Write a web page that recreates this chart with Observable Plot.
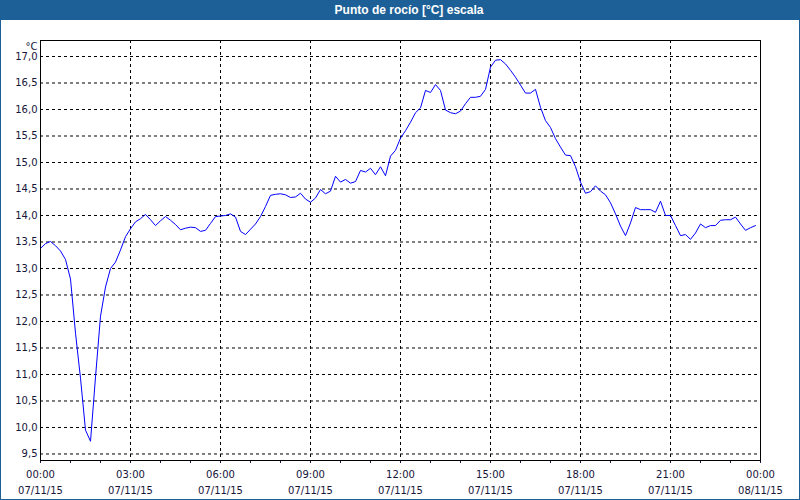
<!DOCTYPE html>
<html><head><meta charset="utf-8">
<script src="https://cdn.jsdelivr.net/npm/d3@7"></script>
<script src="https://cdn.jsdelivr.net/npm/@observablehq/plot@0.6"></script>
<style>
body{margin:0;background:#fff;}
#title{position:absolute;left:0;top:0;width:800px;height:20px;background:#1d5f97;color:#fff;font:bold 12px "Liberation Sans",sans-serif;line-height:20px;text-align:center;padding-left:18px;box-sizing:border-box}
#chart{position:absolute;left:0;top:20px;width:800px;height:480px}
#frame{position:absolute;left:0;top:0;width:800px;height:500px;box-sizing:border-box;border:1px solid #1d5f97;pointer-events:none}
</style></head>
<body>
<div id="title">Punto de rocío [°C] escala</div>
<div id="chart"></div>
<div id="frame"></div>
<script>
// Series: dew point [°C], one reading every 10 minutes from 07/11/15 00:00
const startTime = Date.UTC(2015, 10, 7, 0, 0);
const endTime = Date.UTC(2015, 10, 8, 0, 0);
const stepMinutes = 10;
const dewPoint = [
  13.38, 13.47, 13.51, 13.43, 13.33, 13.17, 12.80, 11.78, 10.93, 9.95,
  9.74, 10.95, 12.10, 12.65, 13.00, 13.12, 13.35, 13.60, 13.75, 13.88,
  13.94, 14.02, 13.92, 13.81, 13.90, 13.98, 13.91, 13.83, 13.73, 13.76,
  13.78, 13.77, 13.70, 13.72, 13.85, 13.98, 13.99, 14.00, 14.03, 13.97,
  13.70, 13.64, 13.74, 13.84, 13.98, 14.17, 14.38, 14.40, 14.41, 14.39,
  14.34, 14.35, 14.42, 14.31, 14.25, 14.33, 14.49, 14.41, 14.46, 14.74,
  14.63, 14.68, 14.61, 14.64, 14.85, 14.82, 14.89, 14.77, 14.92, 14.75,
  15.12, 15.23, 15.46, 15.60, 15.76, 15.94, 16.03, 16.36, 16.32, 16.47,
  16.36, 15.99, 15.94, 15.92, 15.97, 16.11, 16.23, 16.23, 16.25, 16.38,
  16.80, 16.93, 16.94, 16.86, 16.74, 16.61, 16.46, 16.31, 16.31, 16.38,
  16.04, 15.79, 15.66, 15.45, 15.29, 15.14, 15.13, 14.92, 14.63, 14.42,
  14.45, 14.56, 14.46, 14.39, 14.24, 14.03, 13.80, 13.62, 13.86, 14.15,
  14.11, 14.11, 14.11, 14.06, 14.27, 14.00, 14.00, 13.81, 13.62, 13.64,
  13.55, 13.67, 13.84, 13.77, 13.81, 13.81, 13.91, 13.92, 13.92, 13.97,
  13.84, 13.72, 13.77, 13.81
];
const yTicks = [9.5, 10, 10.5, 11, 11.5, 12, 12.5, 13, 13.5, 14, 14.5, 15, 15.5, 16, 16.5, 17];
const yDomain = [9.377, 17.302];
const yUnit = "°C";

const data = dewPoint.map((v, i) => ({time: new Date(startTime + i * stepMinutes * 60000), value: v}));
const majorTicks = d3.utcHour.every(3).range(new Date(startTime), new Date(endTime + 1));
const innerMajor = majorTicks.filter(d => +d !== startTime && +d !== endTime);
const hourTicks = d3.utcHour.range(new Date(startTime), new Date(endTime + 1));
const fmtY = d => d3.format(".1f")(d).replace(".", ",");

const chart = Plot.plot({
  width: 800, height: 480,
  marginLeft: 40, marginRight: 40, marginTop: 20, marginBottom: 40,
  style: {fontFamily: "DejaVu Sans", fontSize: "10px", color: "#15163a", background: "transparent"},
  x: {type: "utc", domain: [new Date(startTime), new Date(endTime)]},
  y: {domain: yDomain},
  marks: [
    Plot.gridY(yTicks, {stroke: "black", strokeOpacity: 1, strokeDasharray: "3,3"}),
    Plot.gridX(innerMajor, {stroke: "black", strokeOpacity: 1, strokeDasharray: "3,3"}),
    Plot.axisY(yTicks, {tickSize: 0, tickPadding: 3, tickFormat: fmtY, label: null}),
    Plot.axisX(hourTicks, {tickSize: 3, tickFormat: () => "", label: null}),
    Plot.axisX(majorTicks, {tickSize: 0, tickPadding: 10, tickFormat: d3.utcFormat("%H:%M"), label: null}),
    Plot.axisX(majorTicks, {tickSize: 0, tickPadding: 26, tickFormat: d3.utcFormat("%d/%m/%y"), label: null}),
    Plot.line(data, {x: "time", y: "value", stroke: "#0000ff", strokeWidth: 1}),
    Plot.frame({stroke: "black"}),
    Plot.text([yUnit], {frameAnchor: "top-left", dx: -3, dy: 6, textAnchor: "end", lineAnchor: "middle", fill: "#15163a"})
  ]
});
document.getElementById("chart").appendChild(chart);
</script>
</body></html>
